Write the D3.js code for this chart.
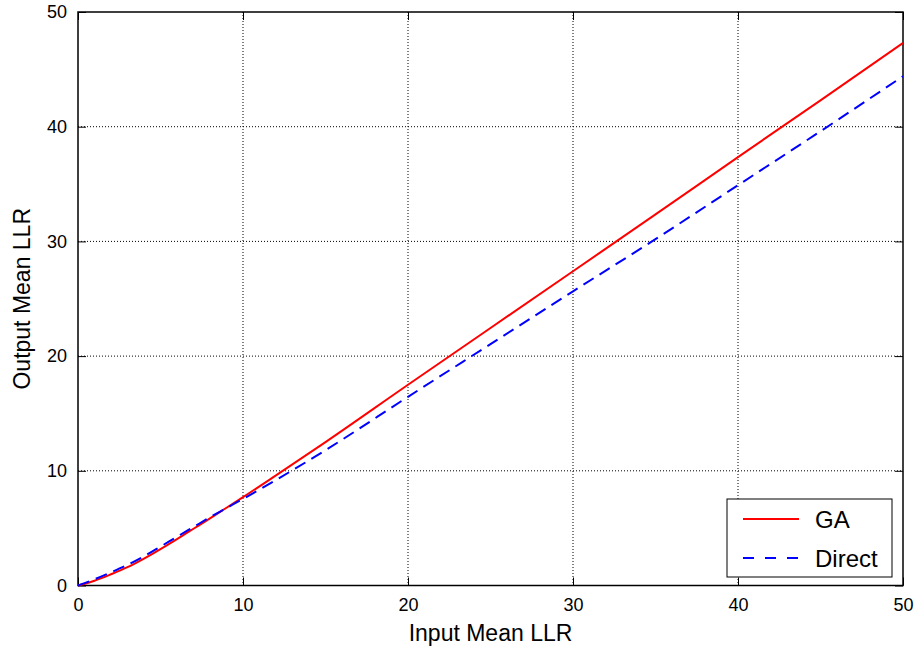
<!DOCTYPE html>
<html>
<head>
<meta charset="utf-8">
<script src="https://cdn.jsdelivr.net/npm/d3@7"></script>
<style>
  body { margin: 0; background: #fff; }
  svg { font-family: "Liberation Sans", Arial, Helvetica, sans-serif; }
</style>
</head>
<body>
<svg id="chart" width="919" height="647"></svg>
<script>
// input mean LLR (x) and the two output curves
const inputLLR = [0, 1, 2, 3, 4, 5, 6, 7, 8, 9, 10, 12, 15, 20, 25, 30, 35, 40, 45, 50]
const gaOut = [0, 0.42, 0.98, 1.6, 2.35, 3.18, 4.05, 4.95, 5.85, 6.78, 7.7, 9.6, 12.5, 17.5, 22.45, 27.4, 32.35, 37.35, 42.3, 47.3]
const directOut = [0, 0.54, 1.15, 1.8, 2.55, 3.39, 4.25, 5.1, 5.95, 6.75, 7.55, 9.2, 11.8, 16.45, 21.05, 25.65, 30.2, 34.9, 39.6, 44.4]
const xTicks = [0, 10, 20, 30, 40, 50]
const yTicks = [0, 10, 20, 30, 40, 50]
const seriesNames = ["GA", "Direct"]

const pLeft = 78, pRight = 903, pTop = 12, pBottom = 585.5
const svg = d3.select("#chart")

const xScale = d3.scaleLinear().domain([0, 50]).range([pLeft, pRight])
const yScale = d3.scaleLinear().domain([0, 50]).range([pBottom, pTop])

// grid
svg.append("g")
    .selectAll("line")
    .data(xTicks.slice(1, -1))
    .enter()
    .append("line")
    .attr("x1", d => xScale(d)).attr("x2", d => xScale(d))
    .attr("y1", pTop).attr("y2", pBottom)
    .attr("stroke", "#000").attr("stroke-width", 1)
    .attr("stroke-dasharray", "1,2")

svg.append("g")
    .selectAll("line")
    .data(yTicks.slice(1, -1))
    .enter()
    .append("line")
    .attr("y1", d => yScale(d)).attr("y2", d => yScale(d))
    .attr("x1", pLeft).attr("x2", pRight)
    .attr("stroke", "#000").attr("stroke-width", 1)
    .attr("stroke-dasharray", "1,2")

// axes
const xAxis = d3.axisBottom(xScale).tickValues(xTicks).tickSize(-8).tickPadding(13)
const yAxis = d3.axisLeft(yScale).tickValues(yTicks).tickSize(-8).tickPadding(11)

const gx = svg.append("g")
    .attr("transform", "translate(0," + pBottom + ")")
    .call(xAxis)
const gy = svg.append("g")
    .attr("transform", "translate(" + pLeft + ",0)")
    .call(yAxis)

// mirrored ticks on top and right
svg.append("g")
    .attr("transform", "translate(0," + pTop + ")")
    .call(d3.axisTop(xScale).tickValues(xTicks).tickSize(-8).tickFormat(""))
svg.append("g")
    .attr("transform", "translate(" + pRight + ",0)")
    .call(d3.axisRight(yScale).tickValues(yTicks).tickSize(-8).tickFormat(""))

svg.selectAll(".domain").remove()
svg.selectAll(".tick line").attr("stroke", "#000").attr("stroke-width", 1)
gx.selectAll("text").attr("font-size", 18).attr("fill", "#000").attr("font-family", "Liberation Sans, Arial, sans-serif")
gy.selectAll("text").attr("font-size", 18).attr("fill", "#000").attr("font-family", "Liberation Sans, Arial, sans-serif")

// frame
svg.append("rect")
    .attr("x", pLeft).attr("y", pTop)
    .attr("width", pRight - pLeft).attr("height", pBottom - pTop)
    .attr("fill", "none").attr("stroke", "#000").attr("stroke-width", 1.5)

// curves
const curveLine = d3.line()
    .x((d, i) => xScale(inputLLR[i]))
    .y(d => yScale(d))
    .curve(d3.curveMonotoneX)

svg.append("path")
    .datum(gaOut)
    .attr("d", curveLine)
    .attr("fill", "none").attr("stroke", "#ff0000").attr("stroke-width", 2)

svg.append("path")
    .datum(directOut)
    .attr("d", curveLine)
    .attr("fill", "none").attr("stroke", "#0000ff").attr("stroke-width", 2)
    .attr("stroke-dasharray", "12,7")

// axis labels
svg.append("text")
    .attr("x", (pLeft + pRight) / 2).attr("y", 641)
    .attr("text-anchor", "middle")
    .attr("font-size", 23)
    .text("Input Mean LLR")

svg.append("text")
    .attr("transform", "translate(30," + ((pTop + pBottom) / 2) + ") rotate(-90)")
    .attr("text-anchor", "middle")
    .attr("font-size", 23)
    .text("Output Mean LLR")

// legend
const lg = svg.append("g")
lg.append("rect")
    .attr("x", 727).attr("y", 499).attr("width", 165).attr("height", 78)
    .attr("fill", "#fff").attr("stroke", "#000").attr("stroke-width", 1)

const legendColors = ["#ff0000", "#0000ff"]
const legendDash = [null, "11,11"]
seriesNames.forEach((name, i) => {
    let yy = 519 + i * 39
    lg.append("line")
        .attr("x1", 743).attr("x2", 799)
        .attr("y1", yy).attr("y2", yy)
        .attr("stroke", legendColors[i]).attr("stroke-width", 2)
        .attr("stroke-dasharray", legendDash[i])
    lg.append("text")
        .attr("x", 815).attr("y", yy + 9)
        .attr("font-size", 24)
        .text(name)
})
</script>
</body>
</html>
